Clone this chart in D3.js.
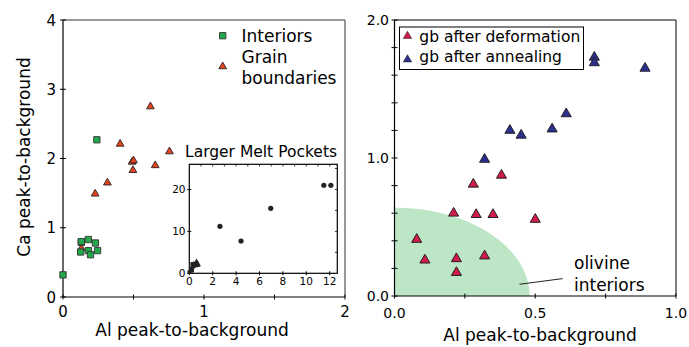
<!DOCTYPE html>
<html>
<head>
<meta charset="utf-8">
<script src="https://cdn.jsdelivr.net/npm/d3@7"></script>
<style>
  body { margin: 0; background: #fff; }
  svg { font-family: "DejaVu Sans", sans-serif; }
</style>
</head>
<body>
<svg id="chart" width="689" height="347"></svg>
<script>
// ---- left panel data (Al, Ca) ----
var interiorsAl = [0.0, 0.13, 0.13, 0.18, 0.23, 0.125, 0.18, 0.195, 0.245, 0.24];
var interiorsCa = [0.32, 0.79, 0.80, 0.83, 0.78, 0.65, 0.67, 0.61, 0.67, 2.27];
var gbAl = [0.228, 0.315, 0.405, 0.62, 0.49, 0.50, 0.496, 0.654, 0.755, 0.13];
var gbCa = [1.49, 1.65, 2.21, 2.75, 1.95, 1.97, 1.83, 1.90, 2.10, 0.70];
// inset: larger melt pockets
var meltAl = [2.62, 4.42, 6.96, 11.5, 12.1];
var meltCa = [11.2, 7.7, 15.5, 21.0, 21.0];
// ---- right panel data ----
var defAl = [0.079, 0.108, 0.21, 0.22, 0.22, 0.28, 0.29, 0.32, 0.35, 0.38, 0.50];
var defCa = [0.41, 0.26, 0.60, 0.27, 0.17, 0.81, 0.59, 0.29, 0.59, 0.875, 0.555];
var annAl = [0.32, 0.41, 0.45, 0.56, 0.61, 0.71, 0.71, 0.89];
var annCa = [0.99, 1.20, 1.165, 1.21, 1.32, 1.73, 1.69, 1.65];
var olivineRadius = [0.48, 0.64];        // Al, Ca extent of the interiors region
var olivineArrow = [[0.444, 0.085], [0.597, 0.126]];

var leftXTicks = [0, 1, 2], leftYTicks = [0, 1, 2, 3, 4];
var insetXTicks = [0, 2, 4, 6, 8, 10, 12], insetYTicks = [0, 10, 20];
var rightXTicks = [0.0, 0.5, 1.0], rightYTicks = [0.0, 1.0, 2.0];

function zip(a, b) { return a.map(function(v, i) { return [v, b[i]]; }); }

var svg = d3.select("#chart");

var GREEN = "#22a84a", ORANGE = "#e8431f", CRIMSON = "#d01b4b", NAVY = "#2c2f8f";

// ticks that cross the spine
function crossTicksX(g, scale, vals, y, len) {
  g.selectAll(null).data(vals).enter().append("line")
    .attr("x1", function(d) { return scale(d); }).attr("x2", function(d) { return scale(d); })
    .attr("y1", y - len).attr("y2", y + len)
    .attr("stroke", "#000").attr("stroke-width", 1);
}
function crossTicksY(g, scale, vals, x, len) {
  g.selectAll(null).data(vals).enter().append("line")
    .attr("y1", function(d) { return scale(d); }).attr("y2", function(d) { return scale(d); })
    .attr("x1", x - len).attr("x2", x + len)
    .attr("stroke", "#000").attr("stroke-width", 1);
}

function frame(g, x0, x1, y0, y1, farColor) {
  g.append("line").attr("x1", x0).attr("x2", x1).attr("y1", y1).attr("y2", y1)
    .attr("stroke", farColor).attr("stroke-width", 1.5);
  g.append("line").attr("x1", x1).attr("x2", x1).attr("y1", y1).attr("y2", y0)
    .attr("stroke", farColor).attr("stroke-width", 1.5);
  g.append("line").attr("x1", x0).attr("x2", x0).attr("y1", y1).attr("y2", y0)
    .attr("stroke", "#000").attr("stroke-width", 1.2);
  g.append("line").attr("x1", x0).attr("x2", x1).attr("y1", y0).attr("y2", y0)
    .attr("stroke", "#000").attr("stroke-width", 1.2);
}

// =================== LEFT PANEL ===================
var xL = d3.scaleLinear().domain([0, 2]).range([63, 345]);
var yL = d3.scaleLinear().domain([0, 4]).range([297, 20]);
var gL = svg.append("g");

frame(gL, 63, 345, 297, 20, "#777");
crossTicksX(gL, xL, [0, 0.5, 1, 1.5, 2], 297, 2.5);
crossTicksY(gL, yL, leftYTicks, 63, 3);

gL.selectAll(null).data(leftXTicks).enter().append("text")
  .attr("x", function(d) { return xL(d); }).attr("y", 317)
  .attr("text-anchor", "middle").attr("font-size", 15).text(function(d) { return d; });
gL.selectAll(null).data(leftYTicks).enter().append("text")
  .attr("x", 56).attr("y", function(d) { return yL(d) + 5.5; })
  .attr("text-anchor", "end").attr("font-size", 15).text(function(d) { return d; });

gL.append("text").attr("x", 192).attr("y", 336).attr("text-anchor", "middle")
  .attr("font-size", 17).text("Al peak-to-background");
gL.append("text").attr("transform", "translate(30,157) rotate(-90)").attr("text-anchor", "middle")
  .attr("font-size", 17).text("Ca peak-to-background");

var sq = d3.symbol().type(d3.symbolSquare).size(40);
var triS = d3.symbol().type(d3.symbolTriangle).size(26);

gL.selectAll(null).data(zip(gbAl, gbCa)).enter().append("path")
  .attr("d", triS).attr("transform", function(d) { return "translate(" + xL(d[0]) + "," + yL(d[1]) + ")"; })
  .attr("fill", ORANGE).attr("stroke", "#222").attr("stroke-width", 0.9);
gL.selectAll(null).data(zip(interiorsAl, interiorsCa)).enter().append("path")
  .attr("d", sq).attr("transform", function(d) { return "translate(" + xL(d[0]) + "," + yL(d[1]) + ")"; })
  .attr("fill", GREEN).attr("stroke", "#333").attr("stroke-width", 0.9);

// legend (no frame)
gL.append("path").attr("d", sq).attr("transform", "translate(222.7,35.7)")
  .attr("fill", GREEN).attr("stroke", "#333").attr("stroke-width", 0.9);
gL.append("path").attr("d", triS).attr("transform", "translate(222.7,66.5)")
  .attr("fill", ORANGE).attr("stroke", "#222").attr("stroke-width", 0.9);
gL.append("text").attr("x", 241.5).attr("y", 41.7).attr("font-size", 17).text("Interiors");
gL.append("text").attr("x", 241.5).attr("y", 63.3).attr("font-size", 17).text("Grain");
gL.append("text").attr("x", 241.5).attr("y", 83.5).attr("font-size", 17).text("boundaries");

// inset
var xI = d3.scaleLinear().domain([0, 12.65]).range([189.3, 337.3]);
var yI = d3.scaleLinear().domain([0, 26]).range([273.3, 164.3]);
var gI = svg.append("g");
gI.append("rect").attr("x", 189.3).attr("y", 164.3).attr("width", 148).attr("height", 109)
  .attr("fill", "#fff").attr("stroke", "#000").attr("stroke-width", 1.2);
gI.append("text").attr("x", 185).attr("y", 156.7).attr("font-size", 15.5).text("Larger Melt Pockets");
crossTicksX(gI, xI, insetXTicks, 273.3, 2);
crossTicksY(gI, yI, insetYTicks, 189.3, 2);
// minor ticks along top and right, inward
gI.selectAll(null).data(d3.range(1, 13)).enter().append("line")
  .attr("x1", function(d) { return xI(d); }).attr("x2", function(d) { return xI(d); })
  .attr("y1", 164.3).attr("y2", 166.5).attr("stroke", "#000").attr("stroke-width", 0.8);
gI.selectAll(null).data([5, 10, 15, 20, 25]).enter().append("line")
  .attr("y1", function(d) { return yI(d); }).attr("y2", function(d) { return yI(d); })
  .attr("x1", 335).attr("x2", 337.3).attr("stroke", "#000").attr("stroke-width", 0.8);
gI.selectAll(null).data(insetXTicks).enter().append("text")
  .attr("x", function(d) { return xI(d); }).attr("y", 284.5)
  .attr("text-anchor", "middle").attr("font-size", 10.5).text(function(d) { return d; });
gI.selectAll(null).data(insetYTicks).enter().append("text")
  .attr("x", 185.5).attr("y", function(d) { return yI(d) + 4; })
  .attr("text-anchor", "end").attr("font-size", 10.5).text(function(d) { return d; });
var tinyTri = d3.symbol().type(d3.symbolTriangle).size(14);
var tinySq = d3.symbol().type(d3.symbolSquare).size(12);
gI.selectAll(null).data(zip(interiorsAl, interiorsCa)).enter().append("path")
  .attr("d", tinySq).attr("transform", function(d) { return "translate(" + xI(d[0]) + "," + yI(d[1]) + ")"; })
  .attr("fill", "#222");
gI.selectAll(null).data(zip(gbAl, gbCa)).enter().append("path")
  .attr("d", tinyTri).attr("transform", function(d) { return "translate(" + xI(d[0]) + "," + yI(d[1]) + ")"; })
  .attr("fill", "#222");
gI.selectAll(null).data(zip(meltAl, meltCa)).enter().append("circle")
  .attr("cx", function(d) { return xI(d[0]); }).attr("cy", function(d) { return yI(d[1]); })
  .attr("r", 2.6).attr("fill", "#222");

// =================== RIGHT PANEL ===================
var xR = d3.scaleLinear().domain([0, 1]).range([394.5, 676]);
var yR = d3.scaleLinear().domain([0, 2]).range([296, 20]);
var gR = svg.append("g");

// olivine interiors region (quarter ellipse)
var arc = d3.range(0, 91, 2).map(function(a) {
  var t = a * Math.PI / 180;
  return [xR(olivineRadius[0] * Math.cos(t)), yR(olivineRadius[1] * Math.sin(t))];
});
arc.push([xR(0), yR(0)]);
gR.append("path").attr("d", d3.line()(arc) + "Z").attr("fill", "#bde6c6");

frame(gR, 394.5, 676, 296, 20, "#555");
crossTicksX(gR, xR, [0, 0.25, 0.5, 0.75, 1], 296, 2.5);
crossTicksY(gR, yR, d3.range(0, 2.01, 0.2), 394.5, 3);

gR.selectAll(null).data(rightXTicks).enter().append("text")
  .attr("x", function(d) { return xR(d); }).attr("y", 317.5)
  .attr("text-anchor", "middle").attr("font-size", 14).text(function(d) { return d.toFixed(1); });
gR.selectAll(null).data(rightYTicks).enter().append("text")
  .attr("x", 389).attr("y", function(d) { return yR(d) + 5; })
  .attr("text-anchor", "end").attr("font-size", 14).text(function(d) { return d.toFixed(1); });

gR.append("text").attr("x", 540).attr("y", 341).attr("text-anchor", "middle")
  .attr("font-size", 17).text("Al peak-to-background");

var triL = d3.symbol().type(d3.symbolTriangle).size(44);
gR.selectAll(null).data(zip(defAl, defCa)).enter().append("path")
  .attr("d", triL).attr("transform", function(d) { return "translate(" + xR(d[0]) + "," + yR(d[1]) + ")"; })
  .attr("fill", CRIMSON).attr("stroke", "#222").attr("stroke-width", 1);
gR.selectAll(null).data(zip(annAl, annCa)).enter().append("path")
  .attr("d", triL).attr("transform", function(d) { return "translate(" + xR(d[0]) + "," + yR(d[1]) + ")"; })
  .attr("fill", NAVY).attr("stroke", "#222").attr("stroke-width", 1);

// annotation
gR.append("line")
  .attr("x1", xR(olivineArrow[0][0])).attr("y1", yR(olivineArrow[0][1]))
  .attr("x2", xR(olivineArrow[1][0])).attr("y2", yR(olivineArrow[1][1]))
  .attr("stroke", "#222").attr("stroke-width", 1);
gR.append("text").attr("x", 574).attr("y", 269).attr("font-size", 17).text("olivine");
gR.append("text").attr("x", 574).attr("y", 291).attr("font-size", 17).text("interiors");

// legend
gR.append("rect").attr("x", 399.5).attr("y", 27).attr("width", 184).attr("height", 42.5)
  .attr("fill", "#fff").attr("stroke", "#000").attr("stroke-width", 1);
var triLeg = d3.symbol().type(d3.symbolTriangle).size(30);
gR.append("path").attr("d", triLeg).attr("transform", "translate(407.5,36)")
  .attr("fill", CRIMSON).attr("stroke", "#222").attr("stroke-width", 0.6);
gR.append("path").attr("d", triLeg).attr("transform", "translate(407.5,59.5)")
  .attr("fill", NAVY).attr("stroke", "#222").attr("stroke-width", 0.6);
gR.append("text").attr("x", 419.3).attr("y", 41.5).attr("font-size", 15.5).text("gb after deformation");
gR.append("text").attr("x", 419.3).attr("y", 62).attr("font-size", 15.5).text("gb after annealing");
</script>
</body>
</html>
